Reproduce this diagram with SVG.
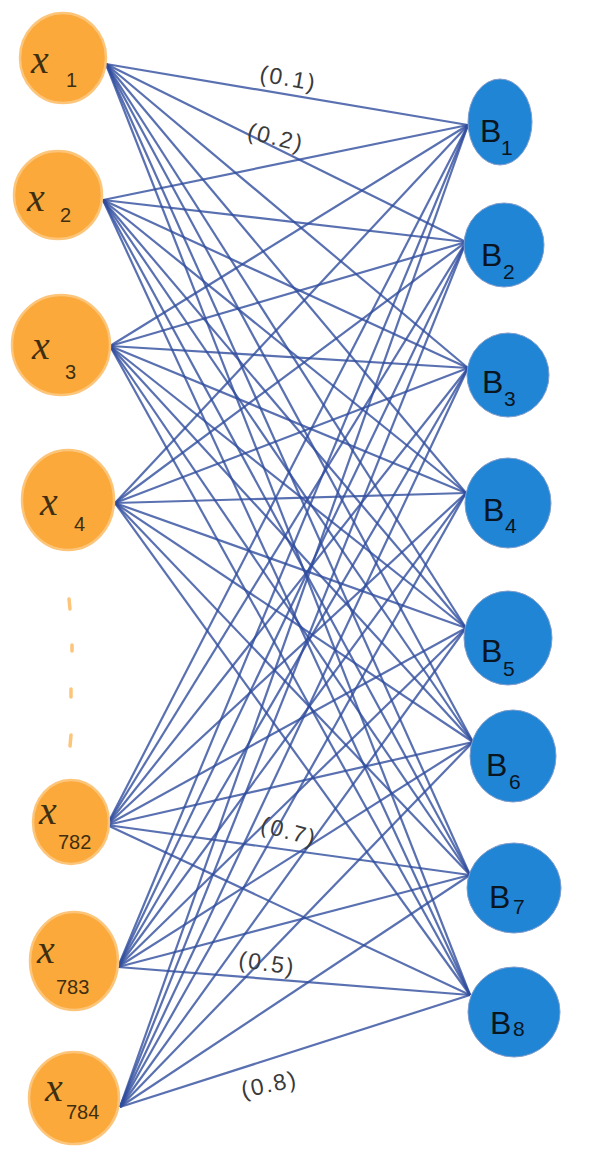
<svg xmlns="http://www.w3.org/2000/svg" width="590" height="1155" viewBox="0 0 590 1155">
<style>
.in{fill:#FBA93B;stroke:#FCC57A;stroke-width:2.5}
.out{fill:#2185D6;stroke:#7F9CCB;stroke-width:1}
.xl{font-family:"Liberation Serif",serif;font-style:italic;fill:#3F2F10;font-size:40px}
.xs{font-family:"Liberation Sans",sans-serif;fill:#3F2F10;font-size:20px}
.bl{font-family:"Liberation Sans",sans-serif;fill:#0A1522;font-size:32px}
.bs{font-family:"Liberation Sans",sans-serif;fill:#0A1522;font-size:21px}
.w{font-family:"Liberation Sans",sans-serif;fill:#3A3A3A;font-size:23px;letter-spacing:2px}
#edges line{stroke:#2F4C9E;stroke-opacity:0.8;stroke-width:2.2}
.dot{stroke:#FCC57A;stroke-width:3.5;stroke-linecap:round;fill:none}
</style>
<rect width="590" height="1155" fill="#fff"/>
<g id="edges">
<line x1="106" y1="64" x2="468" y2="125"/><line x1="106" y1="64" x2="466" y2="242"/><line x1="106" y1="64" x2="468" y2="368"/><line x1="106" y1="64" x2="466" y2="493"/><line x1="106" y1="64" x2="466" y2="628"/><line x1="106" y1="64" x2="473" y2="742"/><line x1="106" y1="64" x2="470" y2="875"/><line x1="106" y1="64" x2="470" y2="995"/>
<line x1="103" y1="200" x2="468" y2="125"/><line x1="103" y1="200" x2="466" y2="242"/><line x1="103" y1="200" x2="468" y2="368"/><line x1="103" y1="200" x2="466" y2="493"/><line x1="103" y1="200" x2="466" y2="628"/><line x1="103" y1="200" x2="473" y2="742"/><line x1="103" y1="200" x2="470" y2="875"/><line x1="103" y1="200" x2="470" y2="995"/>
<line x1="110" y1="346" x2="468" y2="125"/><line x1="110" y1="346" x2="466" y2="242"/><line x1="110" y1="346" x2="468" y2="368"/><line x1="110" y1="346" x2="466" y2="493"/><line x1="110" y1="346" x2="466" y2="628"/><line x1="110" y1="346" x2="473" y2="742"/><line x1="110" y1="346" x2="470" y2="875"/><line x1="110" y1="346" x2="470" y2="995"/>
<line x1="115" y1="503" x2="468" y2="125"/><line x1="115" y1="503" x2="466" y2="242"/><line x1="115" y1="503" x2="468" y2="368"/><line x1="115" y1="503" x2="466" y2="493"/><line x1="115" y1="503" x2="466" y2="628"/><line x1="115" y1="503" x2="473" y2="742"/><line x1="115" y1="503" x2="470" y2="875"/><line x1="115" y1="503" x2="470" y2="995"/>
<line x1="107" y1="825" x2="468" y2="125"/><line x1="107" y1="825" x2="466" y2="242"/><line x1="107" y1="825" x2="468" y2="368"/><line x1="107" y1="825" x2="466" y2="493"/><line x1="107" y1="825" x2="466" y2="628"/><line x1="107" y1="825" x2="473" y2="742"/><line x1="107" y1="825" x2="470" y2="875"/><line x1="107" y1="825" x2="470" y2="995"/>
<line x1="118" y1="967" x2="468" y2="125"/><line x1="118" y1="967" x2="466" y2="242"/><line x1="118" y1="967" x2="468" y2="368"/><line x1="118" y1="967" x2="466" y2="493"/><line x1="118" y1="967" x2="466" y2="628"/><line x1="118" y1="967" x2="473" y2="742"/><line x1="118" y1="967" x2="470" y2="875"/><line x1="118" y1="967" x2="470" y2="995"/>
<line x1="120" y1="1107" x2="468" y2="125"/><line x1="120" y1="1107" x2="466" y2="242"/><line x1="120" y1="1107" x2="468" y2="368"/><line x1="120" y1="1107" x2="466" y2="493"/><line x1="120" y1="1107" x2="466" y2="628"/><line x1="120" y1="1107" x2="473" y2="742"/><line x1="120" y1="1107" x2="470" y2="875"/><line x1="120" y1="1107" x2="470" y2="995"/>
</g>
<g id="weights">
<text class="w" transform="translate(287,86) rotate(10)" text-anchor="middle">(0.1)</text>
<text class="w" transform="translate(274,145) rotate(14)" text-anchor="middle">(0.2)</text>
<text class="w" transform="translate(287,839) rotate(15)" text-anchor="middle">(0.7)</text>
<text class="w" transform="translate(266,971) rotate(8)" text-anchor="middle">(0.5)</text>
<text class="w" transform="translate(271,1092) rotate(-12)" text-anchor="middle">(0.8)</text>
</g>
<g id="x1"><ellipse class="in" cx="63" cy="58" rx="43" ry="45"/><text class="xl" x="31" y="73">x</text><text class="xs" x="66" y="87">1</text></g>
<g id="x2"><ellipse class="in" cx="58" cy="195" rx="44" ry="44"/><text class="xl" x="27" y="211">x</text><text class="xs" x="60" y="222">2</text></g>
<g id="x3"><ellipse class="in" cx="61" cy="345" rx="49" ry="50"/><text class="xl" x="32" y="359">x</text><text class="xs" x="65" y="379">3</text></g>
<g id="x4"><ellipse class="in" cx="68" cy="500" rx="46" ry="50"/><text class="xl" x="40" y="515">x</text><text class="xs" x="74" y="531">4</text></g>
<g id="dots"><path class="dot" d="M69 599L70 609M72 645L72 651M71 689L71 697M71 735L70 746"/></g>
<g id="x782"><ellipse class="in" cx="71" cy="822" rx="38" ry="42"/><text class="xl" x="39" y="824">x</text><text class="xs" x="58" y="849">782</text></g>
<g id="x783"><ellipse class="in" cx="74" cy="961" rx="44" ry="49"/><text class="xl" x="37" y="963">x</text><text class="xs" x="56" y="994">783</text></g>
<g id="x784"><ellipse class="in" cx="74" cy="1098" rx="45" ry="46"/><text class="xl" x="45" y="1101">x</text><text class="xs" x="66" y="1119">784</text></g>
<g id="B1"><ellipse class="out" cx="500" cy="122" rx="32" ry="43"/><text class="bl" x="480" y="142">B</text><text class="bs" x="501" y="155">1</text></g>
<g id="B2"><ellipse class="out" cx="504" cy="245" rx="40" ry="42"/><text class="bl" x="481" y="266">B</text><text class="bs" x="503" y="279">2</text></g>
<g id="B3"><ellipse class="out" cx="508" cy="375" rx="41" ry="42"/><text class="bl" x="482" y="393">B</text><text class="bs" x="504" y="406">3</text></g>
<g id="B4"><ellipse class="out" cx="508" cy="503" rx="43" ry="45"/><text class="bl" x="483" y="521">B</text><text class="bs" x="505" y="533">4</text></g>
<g id="B5"><ellipse class="out" cx="508" cy="638" rx="44" ry="47"/><text class="bl" x="481" y="662">B</text><text class="bs" x="503" y="676">5</text></g>
<g id="B6"><ellipse class="out" cx="513" cy="756" rx="43" ry="46"/><text class="bl" x="486" y="776">B</text><text class="bs" x="509" y="789">6</text></g>
<g id="B7"><ellipse class="out" cx="514" cy="888" rx="47" ry="45"/><text class="bl" x="489" y="908">B</text><text class="bs" x="513" y="914">7</text></g>
<g id="B8"><ellipse class="out" cx="514" cy="1012" rx="46" ry="45"/><text class="bl" x="490" y="1034">B</text><text class="bs" x="513" y="1036">8</text></g>
</svg>
